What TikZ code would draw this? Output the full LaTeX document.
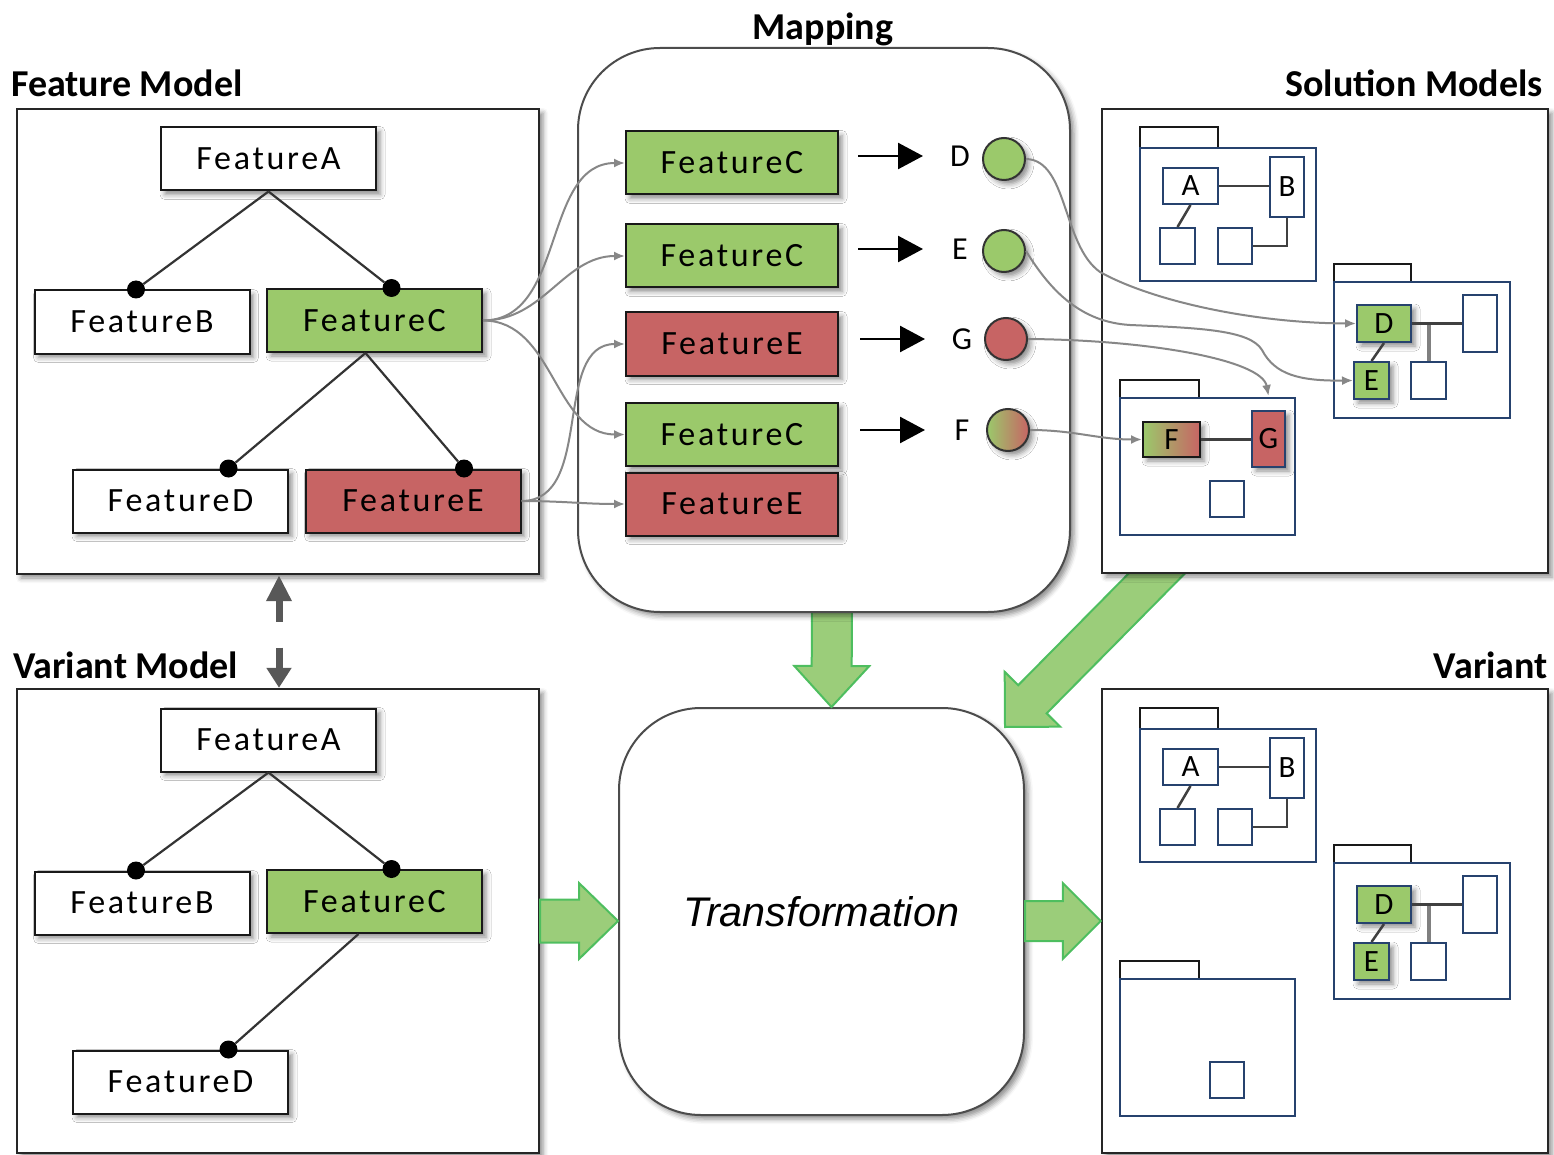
\documentclass[tikz,border=0pt]{standalone}
\usepackage{fontspec}
\setmainfont{Carlito}
\newfontfamily\featfont[LetterSpace=8]{Carlito}
\newfontfamily\trfont{Liberation Sans}
\usetikzlibrary{shadows.blur,arrows.meta,calc}
\definecolor{gfill}{RGB}{155,201,107}
\definecolor{rfill}{RGB}{199,100,100}
\definecolor{navy}{RGB}{38,66,110}
\definecolor{agfill}{RGB}{155,205,122}
\definecolor{agline}{RGB}{78,190,95}
\definecolor{cgray}{RGB}{135,135,135}
\definecolor{dgray}{RGB}{88,88,88}

\newcommand\blockarr[5]{%
 \path ($(#2)!#5!(#1)$) coordinate (ba-h);
 \draw[blockarrow] ($(#1)!#3!90:(#2)$) -- ($(ba-h)!#3!-90:(#1)$) -- ($(ba-h)!#4!-90:(#1)$) -- (#2)
   -- ($(ba-h)!#4!90:(#1)$) -- ($(ba-h)!#3!90:(#1)$) -- ($(#1)!#3!-90:(#2)$) -- cycle;
}

\newcommand\pkgset[2]{%
\begin{scope}[shift={(0,#1)}]
 \draw[ptab] (1140,127) rectangle (1218,148);
 \draw[pbody] (1140,148) rectangle (1316,281);
 \node[ebox,minimum width=55pt,minimum height=36pt] (#2A) at (1190.5,186) {A};
 \node[ebox,minimum width=34pt,minimum height=60pt] (#2B) at (1287,187) {B};
 \node[ebox,minimum width=35pt,minimum height=36pt] (#2s1) at (1177.5,246) {};
 \node[ebox,minimum width=34pt,minimum height=36pt] (#2s2) at (1235,246) {};
 \draw[eline] (#2A.east) -- (#2A.east -| #2B.west);
 \draw[eline] (#2A.south) -- (#2s1.north);
 \draw[eline] (#2B.south) -- (#2B.south |- #2s2.east) -- (#2s2.east);
 \draw[ptab] (1334,264) rectangle (1411,282);
 \draw[pbody] (1334,282) rectangle (1510,418);
 \node[ebox,minimum width=34pt,minimum height=57pt] (#2R) at (1480,323.5) {};
 \node[ebox,minimum width=35pt,minimum height=37pt] (#2s3) at (1428.5,380.5) {};
 \node[ebox,fill=gfill,shad,minimum width=54pt,minimum height=37pt] (#2D) at (1384,323.5) {D};
 \node[ebox,fill=gfill,shad,minimum width=35pt,minimum height=37pt] (#2E) at (1371.5,380.5) {E};
 \draw[eline,line width=4pt,draw=black!50] (#2s3.north |- #2D.east) -- (#2s3.north);
 \draw[eline] (#2D.east) -- (#2R.west);
 \draw[eline] (#2D.south) -- (#2E.north);
 \draw[ptab] (1120,380) rectangle (1199,398);
 \draw[pbody] (1120,398) rectangle (1295,535);
 \node[ebox,minimum width=34pt,minimum height=36pt] (#2s4) at (1227,499) {};
\end{scope}}

\begin{document}
\begin{tikzpicture}[x=1pt,y=-1pt,
 shad/.style={blur shadow={shadow xshift=4pt,shadow yshift=-4pt,shadow blur radius=5pt,shadow opacity=45}},
 panel/.style={draw=black!85,line width=2.4pt,fill=white,shad,inner sep=0pt},
 rpanel/.style={draw=black!70,line width=2pt,fill=white,shad,inner sep=0pt,rounded corners=82pt},
 fbox/.style={draw=black!90,line width=2pt,fill=white,shad,minimum width=215pt,minimum height=63pt,inner sep=0pt,font=\featfont\fontsize{34}{36}\selectfont},
 gbox/.style={fbox,fill=gfill},
 rbox/.style={fbox,fill=rfill},
 ttl/.style={inner sep=0pt,font=\bfseries\fontsize{38}{42}\selectfont},
 fdot/.style={circle,fill=black,inner sep=0pt,minimum size=18pt},
 tline/.style={draw=black!80,line width=2.2pt},
 mapcurve/.style={draw=cgray,line width=2pt,-{Latex[length=11pt,width=9pt]}},
 bigarrow/.style={line width=2.5pt,-{Triangle[length=25pt,width=26pt]}},
 circ/.style={circle,draw=black!80,line width=2pt,minimum size=42pt,inner sep=0pt,shad},
 letter/.style={inner sep=0pt,font=\featfont\fontsize{32}{34}\selectfont},
 ptab/.style={draw=black!90,line width=2.2pt,fill=white},
 pbody/.style={draw=navy,line width=2.2pt,fill=white},
 ebox/.style={draw=navy,line width=2pt,fill=white,inner sep=0pt,font=\featfont\fontsize{31}{34}\selectfont},
 eline/.style={draw=black!75,line width=2.5pt},
 blockarrow/.style={fill=agfill,draw=agline,line width=2pt}
]
\useasboundingbox (0,0) rectangle (1554,1155);

% lower panels
\node[rpanel,minimum width=405pt,minimum height=407pt,font=\trfont\itshape\fontsize{41.4}{44}\selectfont] (tr) at (821.5,911.5) {Transformation};
\node[panel,minimum width=522pt,minimum height=464pt] (vm) at (278,921) {};
\node[panel,minimum width=446pt,minimum height=464pt] (vr) at (1325,921) {};

% block arrows
\path (832,602) coordinate (da1);
\coordinate (da2) at ([xshift=10pt]tr.north);
\blockarr{da1}{da2}{20pt}{37.5pt}{41pt}
\path (1175,555) coordinate (dg1);
\coordinate (dg2) at ([xshift=-20pt,yshift=-20pt]tr.north east);
\blockarr{dg1}{dg2}{20pt}{39pt}{39pt}
\coordinate (la1) at (vm.east);
\coordinate (la2) at (tr.west |- vm.east);
\blockarr{la1}{la2}{21.5pt}{38pt}{39pt}
\coordinate (ra1) at (tr.east |- vr.west);
\coordinate (ra2) at (vr.west);
\blockarr{ra1}{ra2}{20pt}{38pt}{38pt}

% upper panels
\node[panel,minimum width=522pt,minimum height=465pt] (fm) at (278,341.5) {};
\node[rpanel,minimum width=492pt,minimum height=564pt] (map) at (824,330) {};
\node[panel,minimum width=446pt,minimum height=464pt] (sm) at (1325,341) {};

% titles
\node[ttl,anchor=base west] (tFM) at (11,97) {Feature Model};
\node[ttl,anchor=base] (tMap) at (823,40) {Mapping};
\node[ttl,anchor=base east] (tSM) at (1543,97) {Solution Models};
\node[ttl,anchor=base west] (tVM) at (13,678) {Variant Model};
\node[ttl,anchor=base east] (tV) at (1548,678) {Variant};

% feature model
\node[fbox] (fA) at (268.5,159) {FeatureA};
\node[fbox] (fB) at (142,322) {FeatureB};
\node[gbox] (fC) at (374.5,320.5) {FeatureC};
\node[fbox] (fD) at (180.5,501) {FeatureD};
\node[rbox] (fE) at (413,501) {FeatureE};
\node[fdot] (dB) at ([xshift=-6pt]fB.north) {};
\node[fdot] (dC) at ([xshift=17pt]fC.north) {};
\node[fdot] (dD) at ([xshift=48pt]fD.north) {};
\node[fdot] (dE) at ([xshift=51pt]fE.north) {};
\draw[tline] (fA.south) -- (dB);
\draw[tline] (fA.south) -- (dC);
\draw[tline] ([xshift=-9pt]fC.south) -- (dD);
\draw[tline] ([xshift=-9pt]fC.south) -- (dE);

% variant model
\node[fbox] (vA) at (268.5,740) {FeatureA};
\node[fbox] (vB) at (142,903) {FeatureB};
\node[gbox] (vC) at (374.5,901.5) {FeatureC};
\node[fbox] (vD) at (180.5,1082) {FeatureD};
\node[fdot] (vdB) at ([xshift=-6pt]vB.north) {};
\node[fdot] (vdC) at ([xshift=17pt]vC.north) {};
\node[fdot] (vdD) at ([xshift=48pt]vD.north) {};
\draw[tline] (vA.south) -- (vdB);
\draw[tline] (vA.south) -- (vdC);
\draw[tline] ([xshift=-16pt]vC.south) -- (vdD);

% mapping
\node[gbox,minimum width=212pt] (m1) at (732,163) {FeatureC};
\node[gbox,minimum width=212pt] (m2) at (732,256) {FeatureC};
\node[rbox,minimum width=212pt] (m3) at (732,344) {FeatureE};
\node[gbox,minimum width=212pt] (m4) at (732,434.5) {FeatureC};
\node[rbox,minimum width=212pt] (m5) at (732,504) {FeatureE};
\node[letter] (lD) at (960,156) {D};
\node[letter] (lE) at (960,249) {E};
\node[letter] (lG) at (962,339) {G};
\node[letter] (lF) at (962,430) {F};
\node[circ,fill=gfill] (cD) at (1004,159) {};
\node[circ,fill=gfill] (cE) at (1004,251) {};
\node[circ,fill=rfill] (cG) at (1006,339) {};
\node[circ,left color=gfill,right color=rfill] (cF) at (1008,430) {};
\draw[bigarrow] ($(m1.east |- lD)+(19,0)$) -- ($(m1.east |- lD)+(84,0)$);
\draw[bigarrow] ($(m2.east |- lE)+(19,0)$) -- ($(m2.east |- lE)+(84,0)$);
\draw[bigarrow] ($(m3.east |- lG)+(21,0)$) -- ($(m3.east |- lG)+(86,0)$);
\draw[bigarrow] ($(m4.east |- lF)+(21,0)$) -- ($(m4.east |- lF)+(86,0)$);

% solution models and variant packages
\pkgset{0}{s}
\node[ebox,draw=black!90,left color=gfill,right color=rfill,shad,minimum width=57pt,minimum height=35pt] (sF) at (1171.5,439.5) {F};
\node[ebox,fill=rfill,shad,minimum width=33pt,minimum height=56pt] (sG) at (1268.5,439) {G};
\draw[eline] (sF.east) -- (sF.east -| sG.west);
\pkgset{581}{v}

% curves from feature model to mapping
\draw[mapcurve] (fC.east) to[out=0,in=180] (m1.west);
\draw[mapcurve] (fC.east) to[out=0,in=180] (m2.west);
\draw[mapcurve] (fC.east) to[out=0,in=180] (m4.west);
\draw[mapcurve] (fE.east) to[out=0,in=180] (m3.west);
\draw[mapcurve] (fE.east) to[out=0,in=180] (m5.west);

% curves from mapping to solution models
\draw[mapcurve] (cD.east) .. controls (1068,160) and (1062,245) .. (1100,272) .. controls (1150,300) and (1250,323) .. (sD.west);
\draw[mapcurve] (cE.east) .. controls (1050,290) and (1080,322) .. (1130,325) .. controls (1200,328) and (1250,330) .. (1262,350) .. controls (1275,375) and (1300,381) .. (sE.west);
\draw[mapcurve] (cG.east) .. controls (1150,340) and (1262,360) .. ([yshift=14pt]sG.north);
\draw[mapcurve] (cF.east) to[out=0,in=180] (sF.west);

% dashed double arrow
\draw[dgray,line width=7pt,dash pattern=on 22pt off 26pt on 40pt,{Triangle[length=26pt,width=24pt]}-{Triangle[length=20pt,width=24pt]}] ([xshift=1pt]fm.south) -- ([xshift=1pt]vm.north);
\end{tikzpicture}
\end{document}
